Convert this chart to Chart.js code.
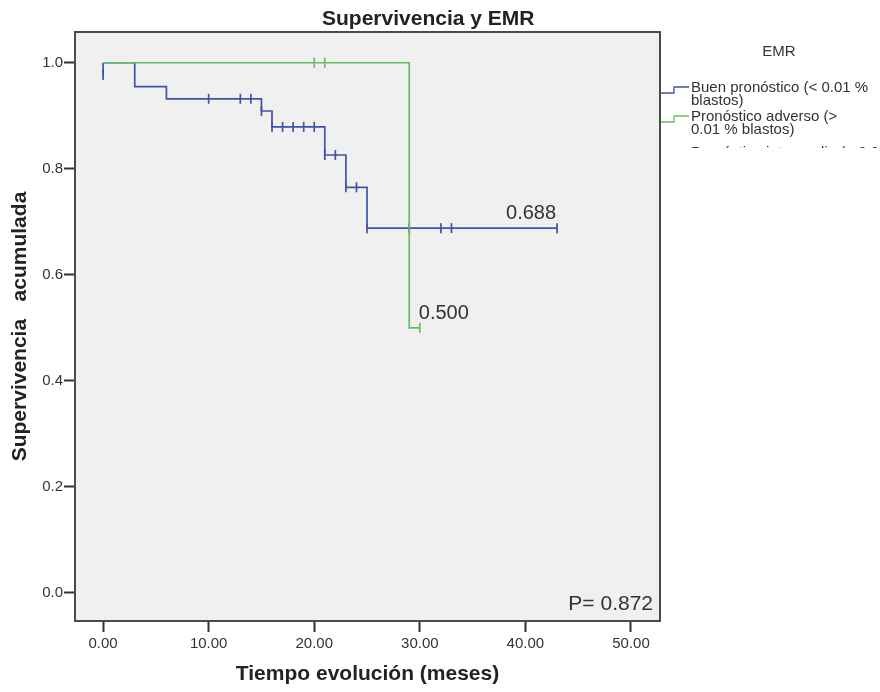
<!DOCTYPE html>
<html>
<head>
<meta charset="utf-8">
<script src="https://cdn.jsdelivr.net/npm/chart.js@4"></script>
<style>
  body { margin: 0; background: #fff; }
  canvas { display: block; }
</style>
</head>
<body>
<canvas id="Chart" width="880" height="692"></canvas>
<script>
// * Axis ticks
const timeTicks = [0, 10, 20, 30, 40, 50]
const survTicks = [0, 0.2, 0.4, 0.6, 0.8, 1.0]

// * Buen pronóstico: steps and censored cases
const buenTime = [0, 3, 6, 15, 16, 21, 23, 25, 43]
const buenSurv = [1.0, 0.955, 0.932, 0.909, 0.879, 0.826, 0.765, 0.688, 0.688]
const buenCensTime = [10, 13, 14, 15, 16, 17, 18, 19, 20, 21, 22, 23, 24, 25, 29, 32, 33, 43]
const buenCensSurv = [0.932, 0.932, 0.932, 0.909, 0.879, 0.879, 0.879, 0.879, 0.879, 0.826, 0.826, 0.765, 0.765, 0.688, 0.688, 0.688, 0.688, 0.688]

// * Pronóstico adverso
const adversoTime = [0, 29, 30]
const adversoSurv = [1.0, 0.5, 0.5]
const adversoCensTime = [20, 21, 30]
const adversoCensSurv = [1.0, 1.0, 0.5]

// * Third group (only its first point is visible)
const tercerTime = [0, 0]
const tercerSurv = [1.0, 0.977]
const tercerCensTime = [0]
const tercerCensSurv = [0.977]

const pValue = '0.872'

const BLUE = '#4253a3'
const GREEN = '#62c062'
const FONT = 'Arial, "Liberation Sans", sans-serif'

const pts = (xs, ys) => xs.map((x, i) => ({ x: x, y: ys[i] }))

const stepSet = (label, xs, ys, color) => ({
    label: label,
    data: pts(xs, ys),
    stepped: 'before',
    borderColor: color,
    borderWidth: 1.7,
    pointRadius: 0,
    fill: false,
})

const censSet = (label, xs, ys, color) => ({
    label: label,
    data: pts(xs, ys),
    showLine: false,
    pointStyle: 'line',
    rotation: 90,
    pointRadius: 5,
    pointBorderWidth: 1.7,
    borderColor: color,
    backgroundColor: color,
})

// green is listed first so it sits on top
const data = {
    datasets: [
        stepSet('Pronóstico adverso', adversoTime, adversoSurv, GREEN),
        censSet('adverso censurado', adversoCensTime, adversoCensSurv, GREEN),
        stepSet('Buen pronóstico', buenTime, buenSurv, BLUE),
        censSet('buen censurado', buenCensTime, buenCensSurv, BLUE),
        stepSet('tercer grupo', tercerTime, tercerSurv, BLUE),
        censSet('tercer censurado', tercerCensTime, tercerCensSurv, BLUE),
    ]
}

// * Grey panel, frame, title, legend and text labels
const spssLook = {
    id: 'spssLook',
    beforeDatasetsDraw(chart) {
        const { ctx, chartArea: a } = chart
        ctx.save()
        ctx.fillStyle = '#f0f0f0'
        ctx.fillRect(a.left, a.top, a.right - a.left, a.bottom - a.top)
        ctx.restore()
    },
    afterDraw(chart) {
        const { ctx, chartArea: a } = chart
        const xs = chart.scales.x, ys = chart.scales.y
        ctx.save()

        ctx.strokeStyle = '#4a4a4a'
        ctx.lineWidth = 2
        ctx.strokeRect(a.left, a.top, a.right - a.left, a.bottom - a.top)

        ctx.fillStyle = '#222'
        ctx.font = 'bold 21px ' + FONT
        ctx.textAlign = 'left'
        ctx.textBaseline = 'alphabetic'
        ctx.fillText('Supervivencia y EMR', 322, 25)

        // value labels at the end of each curve
        ctx.fillStyle = '#333'
        ctx.font = '20px ' + FONT
        const bi = buenTime.length - 1
        ctx.textAlign = 'right'
        ctx.fillText(buenSurv[bi].toFixed(3), xs.getPixelForValue(buenTime[bi]) - 1, ys.getPixelForValue(buenSurv[bi]) - 9)
        const ai = adversoTime.length - 1
        ctx.textAlign = 'left'
        ctx.fillText(adversoSurv[ai].toFixed(3), xs.getPixelForValue(adversoTime[ai]) - 1, ys.getPixelForValue(adversoSurv[ai]) - 9)

        ctx.font = '21px ' + FONT
        ctx.textAlign = 'right'
        ctx.fillText('P= ' + pValue, a.right - 7, a.bottom - 11)

        // legend
        ctx.fillStyle = '#333'
        ctx.font = '15px ' + FONT
        ctx.textAlign = 'center'
        ctx.textBaseline = 'middle'
        ctx.fillText('EMR', 779, 52)

        const items = [
            { color: BLUE, lines: ['Buen pronóstico (< 0.01 %', 'blastos)'], y: 88 },
            { color: GREEN, lines: ['Pronóstico adverso (>', '0.01 % blastos)'], y: 117 },
        ]
        ctx.font = '15px ' + FONT
        ctx.textAlign = 'left'
        items.forEach(it => {
            ctx.strokeStyle = it.color
            ctx.lineWidth = 1.3
            ctx.beginPath()
            ctx.moveTo(661, it.y + 5)
            ctx.lineTo(674, it.y + 5)
            ctx.lineTo(674, it.y - 1)
            ctx.lineTo(689, it.y - 1)
            ctx.stroke()
            it.lines.forEach((t, k) => ctx.fillText(t, 691, it.y + k * 13))
        })

        // third entry is cut off by the image edge
        ctx.save()
        ctx.beginPath()
        ctx.rect(662, 138, 218, 10)
        ctx.clip()
        ctx.fillText('Pronóstico intermedio (= 0.01 %', 691, 153)
        ctx.restore()

        ctx.restore()
    }
}

// * Config Block
const config = {
    type: 'line',
    data,
    options: {
        responsive: false,
        animation: false,
        layout: { padding: { top: 32, right: 220, left: 0, bottom: 0 } },
        plugins: {
            legend: { display: false },
            title: { display: false },
            tooltip: { enabled: false },
        },
        scales: {
            x: {
                type: 'linear',
                min: -2.66,
                max: 52.75,
                afterBuildTicks: s => { s.ticks = timeTicks.map(v => ({ value: v })) },
                afterFit: s => { s.height = 71 },
                grid: { drawOnChartArea: false, tickLength: 11, tickColor: '#333', tickWidth: 2 },
                border: { display: false },
                ticks: {
                    color: '#333',
                    padding: 3,
                    maxRotation: 0,
                    font: { family: FONT, size: 15 },
                    callback: v => Number(v).toFixed(2),
                },
                title: {
                    display: true,
                    text: 'Tiempo evolución (meses)',
                    color: '#222',
                    font: { family: FONT, size: 21, weight: 'bold' },
                    padding: { top: 0, bottom: 5 },
                },
            },
            y: {
                min: -0.053,
                max: 1.058,
                afterBuildTicks: s => { s.ticks = survTicks.map(v => ({ value: v })) },
                afterFit: s => { s.width = 75 },
                grid: { drawOnChartArea: false, tickLength: 11, tickColor: '#333', tickWidth: 2 },
                border: { display: false },
                ticks: {
                    color: '#333',
                    padding: 1,
                    font: { family: FONT, size: 15 },
                    callback: v => Number(v).toFixed(1),
                },
                title: {
                    display: true,
                    text: 'Supervivencia   acumulada',
                    color: '#222',
                    font: { family: FONT, size: 21, weight: 'bold' },
                    padding: { top: 8, bottom: 0 },
                },
            },
        },
    },
    plugins: [spssLook],
}

// * Init / Render Block
const survivalChart = new Chart(
    document.getElementById('Chart'),
    config
)
</script>
</body>
</html>
